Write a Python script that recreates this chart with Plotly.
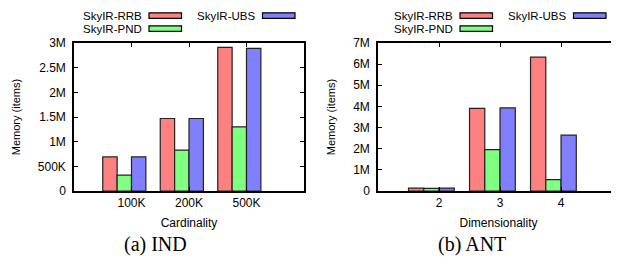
import plotly.graph_objects as go

# ---- data ----
ind_categories = ["100K", "200K", "500K"]
ind_rrb = [690000, 1470000, 2910000]
ind_pnd = [320000, 830000, 1300000]
ind_ubs = [690000, 1470000, 2890000]
ind_yticks = [0, 500000, 1000000, 1500000, 2000000, 2500000, 3000000]
ind_yticklabels = ["0", "500K", "1M", "1.5M", "2M", "2.5M", "3M"]

ant_categories = ["2", "3", "4"]
ant_rrb = [140000, 3910000, 6330000]
ant_pnd = [120000, 1960000, 540000]
ant_ubs = [140000, 3930000, 2640000]
ant_yticks = [0, 1000000, 2000000, 3000000, 4000000, 5000000, 6000000, 7000000]
ant_yticklabels = ["0", "1M", "2M", "3M", "4M", "5M", "6M", "7M"]

series_names = ["SkyIR-RRB", "SkyIR-PND", "SkyIR-UBS"]
colors = ["#ff8080", "#80ff80", "#8080ff"]
offsets = [-0.5, -0.25, 0.0]

# the page body has an 8px margin, so lay the figure out in window pixels
OFF = 8
W, H = 619 - OFF, 264 - OFF
def px(x):
    return (x - OFF) / W
def py(y):
    return 1 - (y - OFF) / H

fig = go.Figure()

for panel, (cats, vals) in enumerate([
        (ind_categories, [ind_rrb, ind_pnd, ind_ubs]),
        (ant_categories, [ant_rrb, ant_pnd, ant_ubs])]):
    xa = "x" if panel == 0 else "x2"
    ya = "y" if panel == 0 else "y2"
    for name, v, c, off in zip(series_names, vals, colors, offsets):
        fig.add_trace(go.Bar(
            x=cats, y=v, name=name, xaxis=xa, yaxis=ya,
            width=0.25, offset=off,
            marker=dict(color=c, line=dict(color="#222222", width=1.2)),
            showlegend=False))

axis_font = dict(family="Liberation Sans, Arial, sans-serif", size=12, color="black")
ydom = [py(191), py(43)]

common_x = dict(type="category", showline=True, linecolor="black", linewidth=1.5,
                ticks="inside", ticklen=4, tickcolor="black", mirror="ticks",
                tickfont=axis_font, showgrid=False, zeroline=False, automargin=False,
                title_font=axis_font, title_standoff=9)
common_y = dict(showline=True, linecolor="black", linewidth=1.5,
                ticks="inside", ticklen=4, tickcolor="black", automargin=False,
                tickfont=axis_font, showgrid=False, zeroline=False,
                ticklabelstandoff=4,
                title_font=dict(family="Liberation Sans, Arial, sans-serif", size=11, color="black"))

fig.update_layout(
    width=W, height=H,
    margin=dict(l=0, r=0, t=0, b=0),
    paper_bgcolor="white", plot_bgcolor="white",
    barmode="overlay",
    xaxis=dict(domain=[px(74), px(304)], range=[-1, 3],
               title_text="Cardinality", anchor="y", **common_x),
    yaxis=dict(domain=ydom, range=[0, 3000000], tickvals=ind_yticks,
               ticktext=ind_yticklabels, mirror="ticks", anchor="x",
               title_text="Memory (items)", title_standoff=15, **common_y),
    xaxis2=dict(domain=[px(378), 1.0], range=[-1, 2.95],
                title_text="Dimensionality", anchor="y2", **common_x),
    yaxis2=dict(domain=ydom, range=[0, 7000000], tickvals=ant_yticks,
                ticktext=ant_yticklabels, mirror=False, anchor="x2",
                title_text="Memory (items)", title_standoff=15, **common_y),
)

# ---- manual legends (text left of key) ----
legend_font = dict(family="Liberation Sans, Arial, sans-serif", size=11.5, color="black")
def add_legend(base):
    layout = [(0, 143, 149, 181.5, 15.6),
              (1, 143, 149, 181.5, 28.6),
              (2, 256, 262.5, 295, 15.6)]
    for i, tx, k0, k1, yc in layout:
        fig.add_annotation(x=px(base + tx), y=py(yc), xref="paper", yref="paper",
                           text=series_names[i], showarrow=False, xanchor="right",
                           yanchor="middle", font=legend_font, borderpad=0)
        fig.add_shape(type="rect", xref="paper", yref="paper",
                      x0=px(base + k0), x1=px(base + k1),
                      y0=py(yc + 2.8), y1=py(yc - 2.8),
                      fillcolor=colors[i], line=dict(color="black", width=1.2))

add_legend(0)
add_legend(311)

cap_font = dict(family="Liberation Serif, Times New Roman, serif", size=20, color="black")
fig.add_annotation(x=px(155.5), y=py(244.5), xref="paper", yref="paper", text="(a) IND",
                   showarrow=False, xanchor="center", yanchor="middle", font=cap_font)
fig.add_annotation(x=px(471.5), y=py(244.5), xref="paper", yref="paper", text="(b) ANT",
                   showarrow=False, xanchor="center", yanchor="middle", font=cap_font)

fig.write_html("out.html")
